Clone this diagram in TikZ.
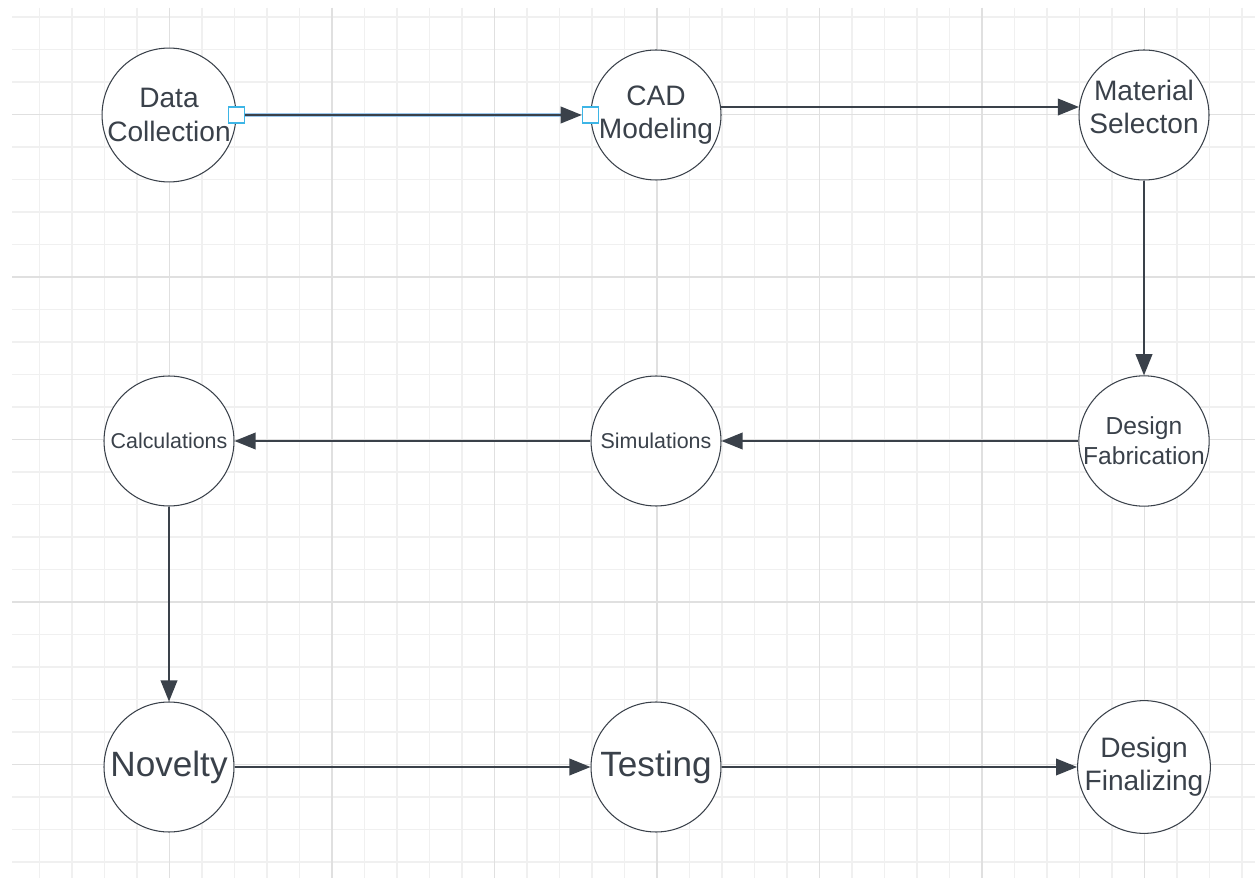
\documentclass[tikz,border=0pt]{standalone}
\usepackage{fontspec}
\setmainfont{Liberation Sans}
\usetikzlibrary{arrows.meta}

\definecolor{inkgray}{HTML}{3A414A}
\definecolor{gridminor}{HTML}{F0F0F0}
\definecolor{gridmajor}{HTML}{E0E0E0}
\definecolor{selblue}{HTML}{3DB5E6}
\definecolor{glowblue}{HTML}{9CC8EE}

\tikzset{
	stage/.style={circle, draw=inkgray, line width=0.6pt, fill=white, minimum size=2.6cm, inner sep=0pt, text=inkgray, align=center},
	flow/.style={draw=inkgray, line width=0.85pt, -{Triangle[length=12pt, width=9.5pt]}},
	handle/.style={draw=selblue, line width=0.8pt, fill=white, minimum size=0.32cm, inner sep=0pt},
	midtext/.style={font=\fontsize{16}{19}\selectfont},
	bigtext/.style={font=\fontsize{20}{24}\selectfont},
	smalltext/.style={font=\fontsize{12.2}{14}\selectfont}
}

\begin{document}
\begin{tikzpicture}[x=0.02cm, y=-0.02cm]
		\useasboundingbox (0,0) rectangle (1255,878);
		\fill[white] (0,0) rectangle (1255,878);
		
		% grid
		\foreach \i in {0,...,37}
			\draw[gridminor, line width=0.6pt] (39.5+32.5*\i,8) -- (39.5+32.5*\i,878);
		\foreach \j in {0,...,26}
			\draw[gridminor, line width=0.6pt] (12,17+32.5*\j) -- (1255,17+32.5*\j);
		\foreach \i in {4,9,...,34}
			\draw[gridmajor, line width=0.6pt] (39.5+32.5*\i,8) -- (39.5+32.5*\i,878);
		\foreach \j in {3,8,...,23}
			\draw[gridmajor, line width=0.6pt] (12,17+32.5*\j) -- (1255,17+32.5*\j);
		
		% stages
		\node[stage, midtext] (data) at (169,115) {Data\\Collection};
		\node[stage, midtext] (cad) at (656,115) {CAD\\Modeling};
		\node[stage, midtext, text depth=9pt] (mat) at (1144,115) {Material\\Selecton};
		\node[stage, smalltext] (calc) at (169,441) {Calculations};
		\node[stage, smalltext] (sim) at (656,441) {Simulations};
		\node[stage, font=\fontsize{14}{17}\selectfont] (fab) at (1144,441) {Design\\Fabrication};
		\node[stage, bigtext] (nov) at (169,767) {Novelty};
		\node[stage, bigtext] (test) at (656,767) {Testing};
		\node[stage, midtext] (fin) at (1144,767) {Design\\Finalizing};
		
		% selected connector
		\node[handle] (hdata) at (data.east) {};
		\node[handle] (hcad) at (cad.west) {};
		\draw[glowblue, line width=2.4pt] (hdata.east) -- ([xshift=-8pt]hcad.west);
		\draw[flow] (hdata.east) -- (hcad.west);
		
		% flow
		\draw[flow] (cad.7) -- (mat.173);
		\draw[flow] (mat) -- (fab);
		\draw[flow] (fab) -- (sim);
		\draw[flow] (sim) -- (calc);
		\draw[flow] (calc) -- (nov);
		\draw[flow] (nov) -- (test);
		\draw[flow] (test) -- (fin);
		
\end{tikzpicture}
\end{document}
